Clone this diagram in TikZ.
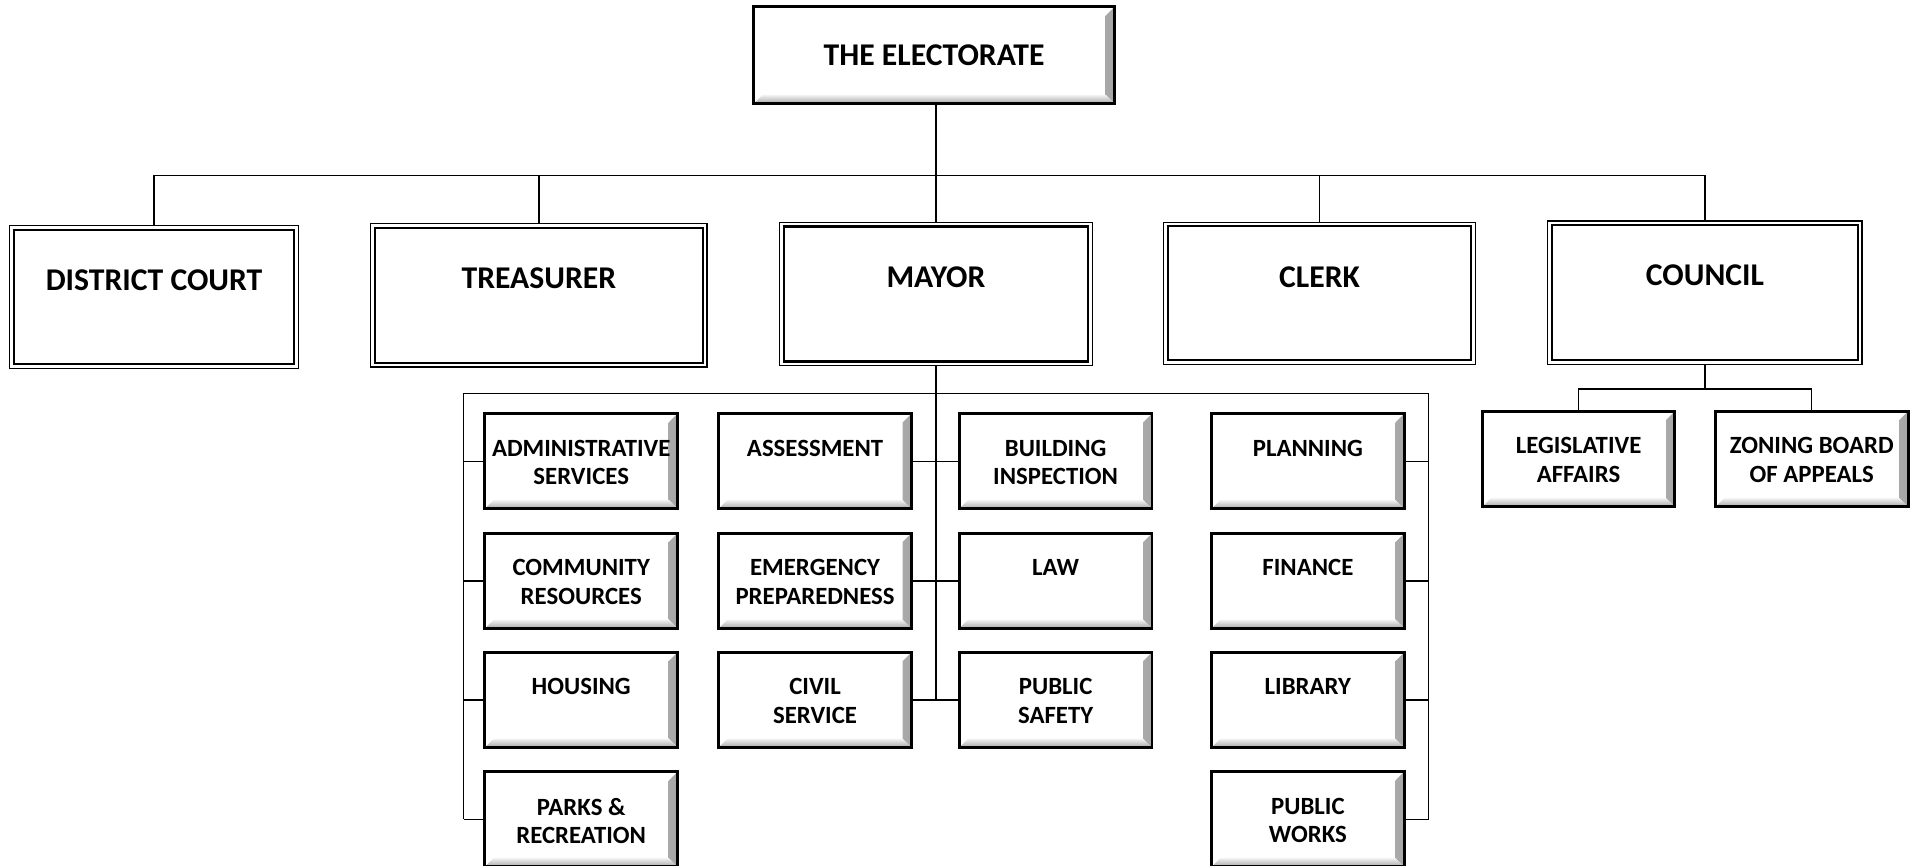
\documentclass[tikz,border=0pt]{standalone}
\usepackage{fontspec}
\setmainfont{Carlito}
\begin{document}
\begin{tikzpicture}[x=0.5pt,y=-0.5pt,
  conn/.style={line width=0.55pt},
  bevelbox/.style={draw, line width=1.2pt, fill=white, inner sep=0pt, outer sep=0pt,
    path picture={
      \shade[left color=gray!10, right color=gray!70]
        ([xshift=-3.6pt,yshift=-3.6pt]path picture bounding box.north east) --
        (path picture bounding box.north east) --
        (path picture bounding box.south east) --
        ([xshift=-3.6pt,yshift=3.6pt]path picture bounding box.south east) -- cycle;
      \shade[top color=gray!10, bottom color=gray!70]
        ([xshift=3.6pt,yshift=3.6pt]path picture bounding box.south west) --
        (path picture bounding box.south west) --
        (path picture bounding box.south east) --
        ([xshift=-3.6pt,yshift=3.6pt]path picture bounding box.south east) -- cycle;
    }},
  smallbox/.style={bevelbox, minimum width=78.5pt, minimum height=38.75pt},
  dblbox/.style={draw, line width=0.9pt, fill=white, inner sep=0pt, outer sep=1.7pt,
    minimum height=55pt,
    preaction={draw, line width=3.9pt},
    preaction={draw=white, line width=2.9pt}},
  bigtxt/.style={font=\bfseries\fontsize{12.9}{15}\selectfont, inner sep=0pt, anchor=north},
  smtxt/.style={font=\bfseries\fontsize{10.1}{11.7}\selectfont, inner sep=0pt, align=center, anchor=north},
]
\useasboundingbox (0,0) rectangle (1565,705.5);

% top
\node[bevelbox, minimum width=147pt, minimum height=39.5pt,
      font=\bfseries\fontsize{12.9}{15}\selectfont] (el) at (761,45) {THE ELECTORATE};

% level 1
\node[dblbox, minimum width=114.1pt, minimum height=54.6pt] (dc) at (125.5,242) {};
\node[dblbox, minimum width=133.6pt] (tr) at (439,240.5) {};
\node[dblbox, minimum width=124.1pt] (my) at (762.5,239.5) {};
\node[dblbox, minimum width=123.6pt, minimum height=54.6pt] (cl) at (1075,239) {};
\node[dblbox, minimum width=124.6pt] (co) at (1389,238.5) {};

\node[bigtxt] (dcT) at ([yshift=-17.75pt]dc.north) {DISTRICT COURT};
\node[bigtxt] (trT) at ([yshift=-17.75pt]tr.north) {TREASURER};
\node[bigtxt] (myT) at ([yshift=-17.75pt]my.north) {MAYOR};
\node[bigtxt] (clT) at ([yshift=-17.75pt]cl.north) {CLERK};
\node[bigtxt] (coT) at ([yshift=-17.75pt]co.north) {COUNCIL};

% mayor departments
\node[smallbox] (a1) at (473.5,375.75) {};
\node[smallbox] (a2) at (473.5,473.25) {};
\node[smallbox] (a3) at (473.5,570.25) {};
\node[smallbox] (a4) at (473.5,667.45) {};
\node[smallbox] (m1) at (664,375.75) {};
\node[smallbox] (m2) at (664,473.25) {};
\node[smallbox] (m3) at (664,570.25) {};
\node[smallbox] (n1) at (860,375.75) {};
\node[smallbox] (n2) at (860,473.25) {};
\node[smallbox] (n3) at (860,570.25) {};
\node[smallbox] (r1) at (1065.5,375.75) {};
\node[smallbox] (r2) at (1065.5,473.25) {};
\node[smallbox] (r3) at (1065.5,570.25) {};
\node[smallbox] (r4) at (1065.5,667.45) {};
\node[smallbox, minimum height=39pt] (la) at (1286,374) {};
\node[smallbox, minimum height=39pt] (zb) at (1476,374) {};

\node[smtxt] (a1T) at ([yshift=-10.5pt]a1.north) {ADMINISTRATIVE\\SERVICES};
\node[smtxt] (a2T) at ([yshift=-10.5pt]a2.north) {COMMUNITY\\RESOURCES};
\node[smtxt] (a3T) at ([yshift=-10.5pt]a3.north) {HOUSING};
\node[smtxt] (a4T) at ([yshift=-10.5pt]a4.north) {PARKS \&\\RECREATION};
\node[smtxt] (m1T) at ([yshift=-10.5pt]m1.north) {ASSESSMENT};
\node[smtxt] (m2T) at ([yshift=-10.5pt]m2.north) {EMERGENCY\\PREPAREDNESS};
\node[smtxt] (m3T) at ([yshift=-10.5pt]m3.north) {CIVIL\\SERVICE};
\node[smtxt] (n1T) at ([yshift=-10.5pt]n1.north) {BUILDING\\INSPECTION};
\node[smtxt] (n2T) at ([yshift=-10.5pt]n2.north) {LAW};
\node[smtxt] (n3T) at ([yshift=-10.5pt]n3.north) {PUBLIC\\SAFETY};
\node[smtxt] (r1T) at ([yshift=-10.5pt]r1.north) {PLANNING};
\node[smtxt] (r2T) at ([yshift=-10.5pt]r2.north) {FINANCE};
\node[smtxt] (r3T) at ([yshift=-10.5pt]r3.north) {LIBRARY};
\node[smtxt] (r4T) at ([yshift=-10.5pt]r4.north) {PUBLIC\\WORKS};
\node[smtxt] (laT) at ([yshift=-10.5pt]la.north) {LEGISLATIVE\\AFFAIRS};
\node[smtxt] (zbT) at ([yshift=-10.5pt]zb.north) {ZONING BOARD\\OF APPEALS};

% connectors level 1
\coordinate (bus) at (762.5,143);
\draw[conn] (my.north |- el.south) -- (my.north);
\draw[conn] (dc.north) |- (bus) -| (co.north);
\draw[conn] (tr.north) -- (tr.north |- bus);
\draw[conn] (cl.north) -- (cl.north |- bus);

% mayor bus
\coordinate (mbL) at (377.8,320.4);
\coordinate (mbR) at (1164,320.4);
\draw[conn] (my.south) -- (my.south |- m3.east);
\draw[conn] (mbL |- a4.west) -- (mbL) -- (mbR) -- (mbR |- r4.east);
\foreach \i in {1,2,3,4}{
  \draw[conn] (a\i.west) -- (a\i.west -| mbL);
  \draw[conn] (r\i.east) -- (r\i.east -| mbR);
}
\foreach \i in {1,2,3}{
  \draw[conn] (m\i.east) -- (n\i.west);
}

% council
\coordinate (cbus) at (1389,317);
\draw[conn] (co.south) -- (co.south |- cbus);
\draw[conn] (la.north) |- (cbus) -| (zb.north);
\end{tikzpicture}
\end{document}
